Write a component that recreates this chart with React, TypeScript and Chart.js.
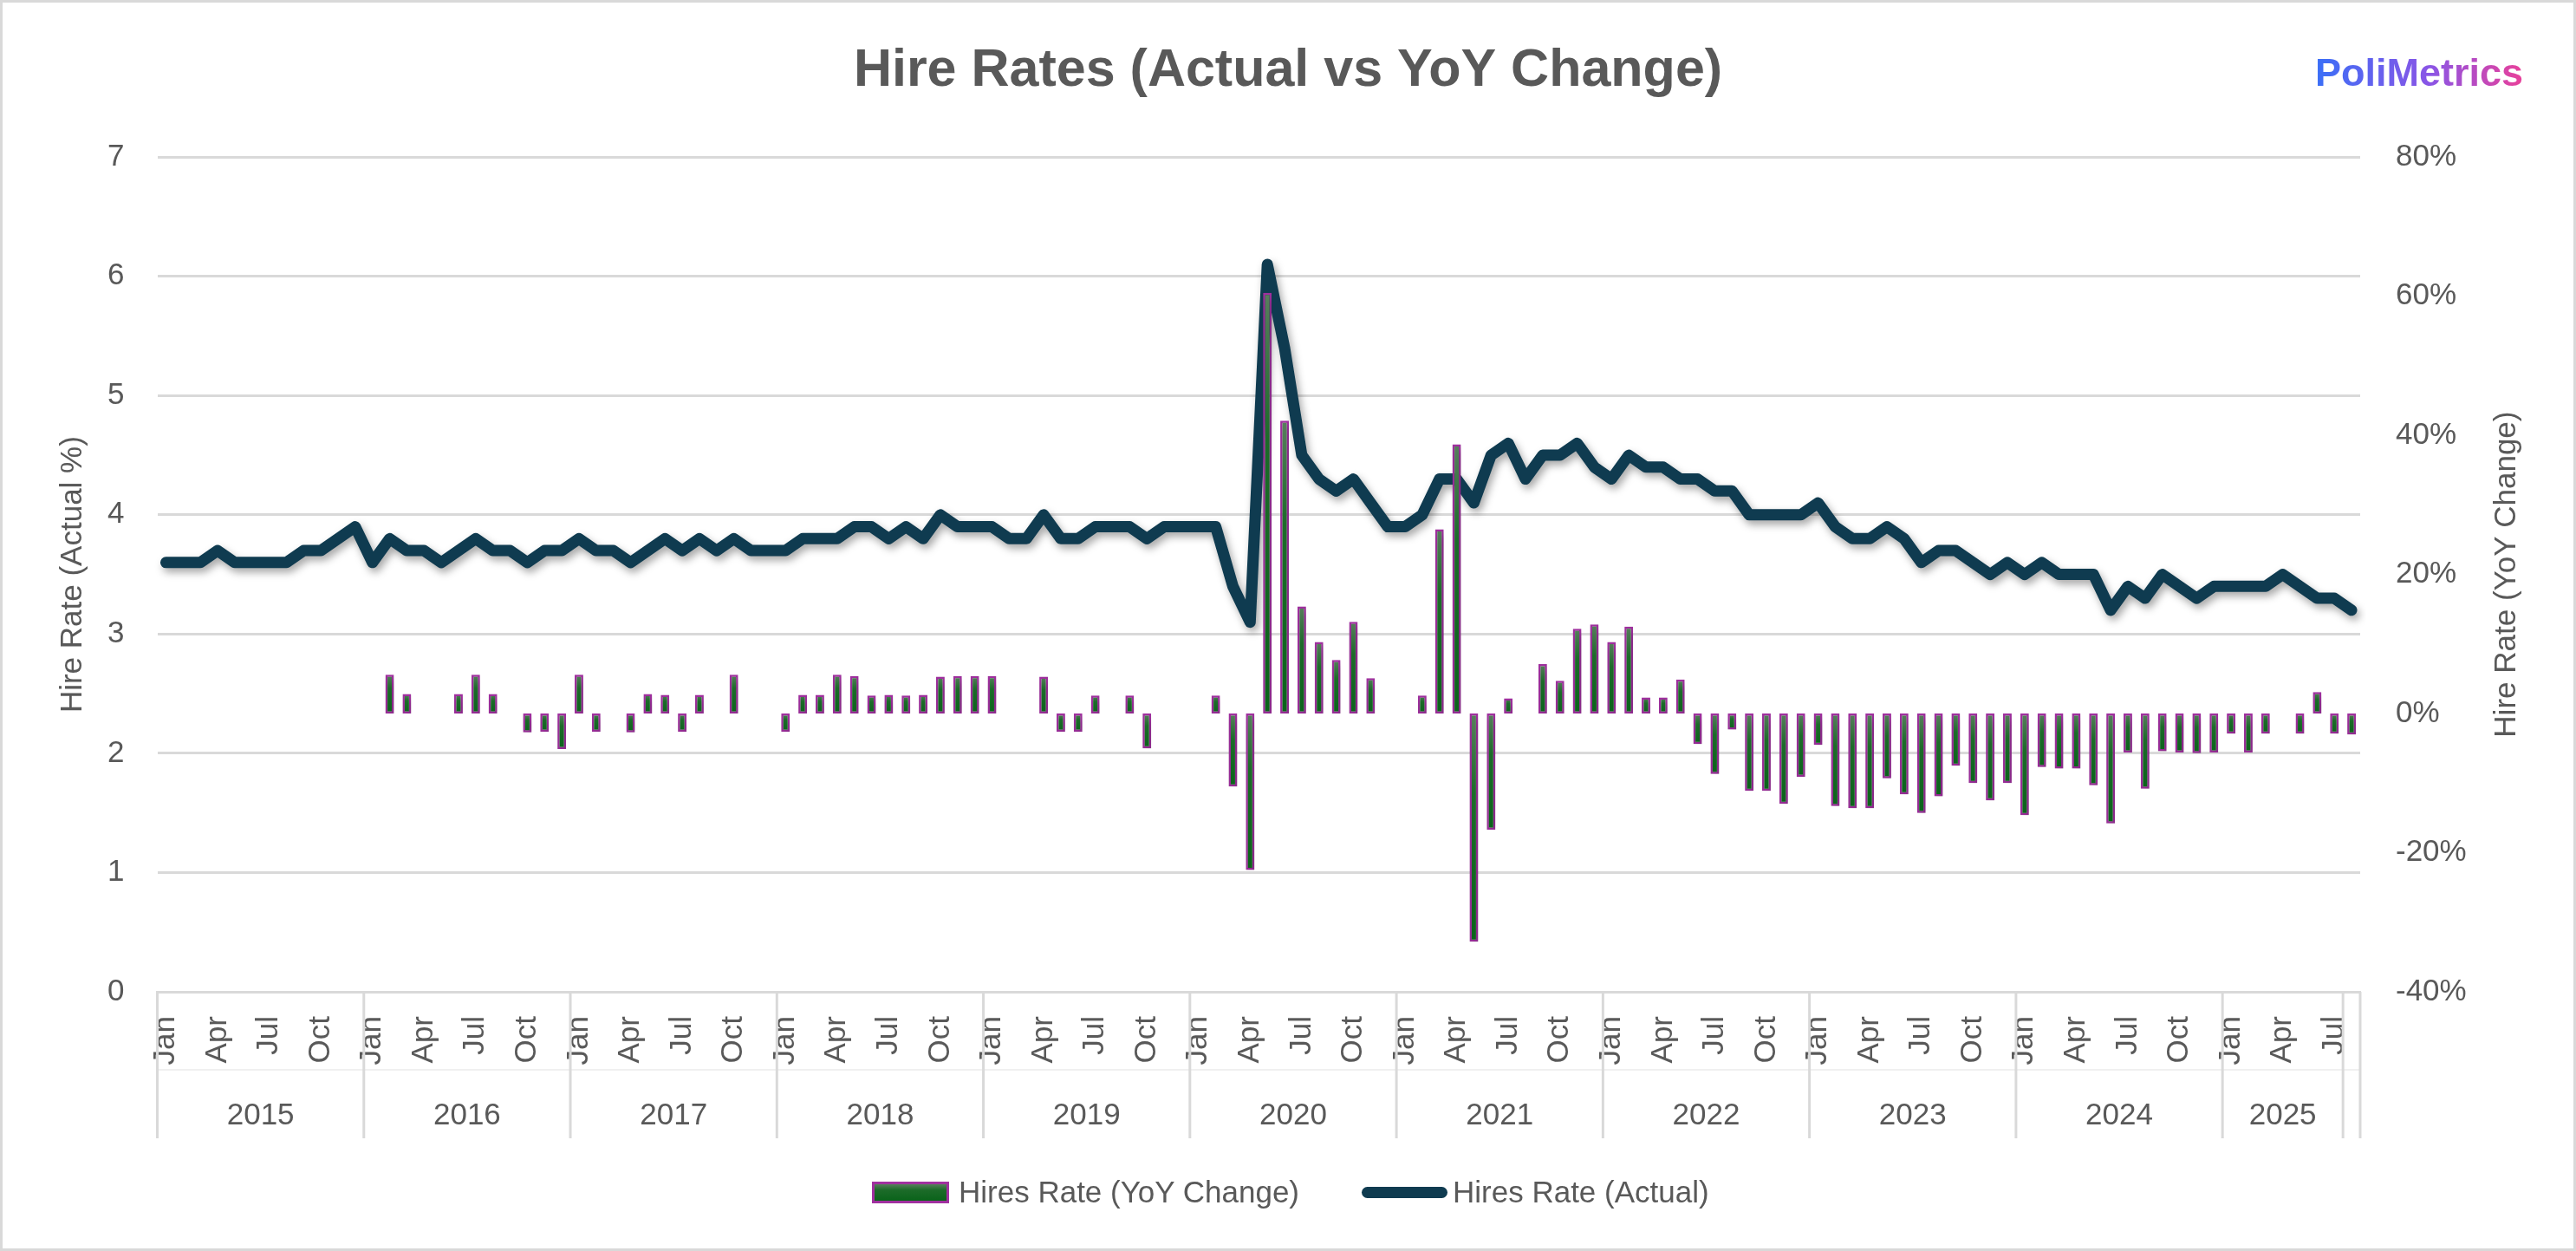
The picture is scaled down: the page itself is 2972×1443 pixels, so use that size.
import React, { useEffect, useRef } from "react";
import Chart from "chart.js/auto";

// categories: months grouped by year (last group is a single unlabelled month)
const MONTHS = ["Jan", "Feb", "Mar", "Apr", "May", "Jun", "Jul", "Aug", "Sep", "Oct", "Nov", "Dec"];
const SHOWN_MONTHS = ["Jan", "Apr", "Jul", "Oct"];
const YEAR_LABELS = ["2015", "2016", "2017", "2018", "2019", "2020", "2021", "2022", "2023", "2024", "2025", ""];
const YEAR_SIZES = [12, 12, 12, 12, 12, 12, 12, 12, 12, 12, 7, 1];

// Hires Rate (Actual), %
const hireRateActual = [
  3.6, 3.6, 3.6, 3.7, 3.6, 3.6, 3.6, 3.6, 3.7, 3.7, 3.8, 3.9, // 2015
  3.6, 3.8, 3.7, 3.7, 3.6, 3.7, 3.8, 3.7, 3.7, 3.6, 3.7, 3.7, // 2016
  3.8, 3.7, 3.7, 3.6, 3.7, 3.8, 3.7, 3.8, 3.7, 3.8, 3.7, 3.7, // 2017
  3.7, 3.8, 3.8, 3.8, 3.9, 3.9, 3.8, 3.9, 3.8, 4.0, 3.9, 3.9, // 2018
  3.9, 3.8, 3.8, 4.0, 3.8, 3.8, 3.9, 3.9, 3.9, 3.8, 3.9, 3.9, // 2019
  3.9, 3.9, 3.4, 3.1, 6.1, 5.4, 4.5, 4.3, 4.2, 4.3, 4.1, 3.9, // 2020
  3.9, 4.0, 4.3, 4.3, 4.1, 4.5, 4.6, 4.3, 4.5, 4.5, 4.6, 4.4, // 2021
  4.3, 4.5, 4.4, 4.4, 4.3, 4.3, 4.2, 4.2, 4.0, 4.0, 4.0, 4.0, // 2022
  4.1, 3.9, 3.8, 3.8, 3.9, 3.8, 3.6, 3.7, 3.7, 3.6, 3.5, 3.6, // 2023
  3.5, 3.6, 3.5, 3.5, 3.5, 3.2, 3.4, 3.3, 3.5, 3.4, 3.3, 3.4, // 2024
  3.4, 3.4, 3.4, 3.5, 3.4, 3.3, 3.3, 3.2, // 2025
];

// Hires Rate (YoY Change), %
const hireRateYoY = [
  null, null, null, null, null, null, null, null, null, null, null, null, // 2015
  0, 5.6, 2.8, 0, 0, 2.8, 5.6, 2.8, 0, -2.7, -2.6, -5.1, // 2016
  5.6, -2.6, 0, -2.7, 2.8, 2.7, -2.6, 2.7, 0, 5.6, 0, 0, // 2017
  -2.6, 2.7, 2.7, 5.6, 5.4, 2.6, 2.7, 2.6, 2.7, 5.3, 5.4, 5.4, // 2018
  5.4, 0, 0, 5.3, -2.6, -2.6, 2.6, 0, 2.6, -5.0, 0, 0, // 2019
  0, 2.6, -10.5, -22.5, 60.5, 42.1, 15.4, 10.3, 7.7, 13.2, 5.1, 0, // 2020
  0, 2.6, 26.5, 38.7, -32.8, -16.7, 2.2, 0, 7.1, 4.7, 12.2, 12.8, // 2021
  10.3, 12.5, 2.3, 2.3, 4.9, -4.4, -8.7, -2.3, -11.1, -11.1, -13.0, -9.1, // 2022
  -4.5, -13.3, -13.6, -13.6, -9.3, -11.6, -14.3, -11.9, -7.5, -10.0, -12.5, -10.0, // 2023
  -14.6, -7.7, -7.9, -7.9, -10.3, -15.8, -5.6, -10.8, -5.4, -5.6, -5.7, -5.6, // 2024
  -2.9, -5.6, -2.9, 0, -2.9, 3.1, -2.9, -3.0, // 2025
];

const TEXT = "#595959";
const GRID = "#d9d9d9";
const LINE = "#0f3b50";
const BAR_EDGE = "#a0309f";
const FONT = '"Liberation Sans", Arial, sans-serif';

const monthLabels: string[] = [];
YEAR_SIZES.forEach((size, g) => {
  const before = YEAR_SIZES.slice(0, g).reduce((a, b) => a + b, 0);
  for (let k = 0; k < size; k++) monthLabels.push(MONTHS[(before + k) % 12]);
});

// soft drop shadow under the line and the bars
const dropShadow = {
  id: "dropShadow",
  beforeDatasetDraw(chart: any) {
    const c = chart.ctx;
    c.save();
    c.shadowColor = "rgba(0,0,0,0.35)";
    c.shadowBlur = 10;
    c.shadowOffsetX = 3;
    c.shadowOffsetY = 5;
  },
  afterDatasetDraw(chart: any) {
    chart.ctx.restore();
  },
};

// year row, group separators and the two vertical axis titles
const yearAxis = {
  id: "yearAxis",
  afterDraw(chart: any) {
    const { ctx, chartArea } = chart;
    const x = chart.scales.x;
    const n = monthLabels.length;
    const edge = (i: number) =>
      i <= 0 ? chartArea.left : i >= n ? chartArea.right : (x.getPixelForValue(i - 1) + x.getPixelForValue(i)) / 2;
    const top = chartArea.bottom;
    const lineBottom = top + 169;

    ctx.save();
    ctx.strokeStyle = "#f0f0f0";
    ctx.lineWidth = 2;
    ctx.beginPath();
    ctx.moveTo(chartArea.left, top + 90);
    ctx.lineTo(chartArea.right, top + 90);
    ctx.stroke();

    ctx.strokeStyle = GRID;
    ctx.lineWidth = 3;
    ctx.font = `35px ${FONT}`;
    ctx.fillStyle = TEXT;
    ctx.textAlign = "center";
    ctx.textBaseline = "middle";
    let start = 0;
    YEAR_SIZES.forEach((size, g) => {
      const x0 = edge(start);
      const x1 = edge(start + size);
      ctx.beginPath();
      ctx.moveTo(x0, top);
      ctx.lineTo(x0, lineBottom);
      ctx.stroke();
      if (YEAR_LABELS[g]) ctx.fillText(YEAR_LABELS[g], (x0 + x1) / 2, top + 143);
      start += size;
    });
    ctx.beginPath();
    ctx.moveTo(chartArea.right, top);
    ctx.lineTo(chartArea.right, lineBottom);
    ctx.stroke();

    const midY = (chartArea.top + chartArea.bottom) / 2;
    const vertical = (text: string, cx: number) => {
      ctx.save();
      ctx.translate(cx, midY);
      ctx.rotate(-Math.PI / 2);
      ctx.fillText(text, 0, 0);
      ctx.restore();
    };
    vertical("Hire Rate (Actual %)", 84);
    vertical("Hire Rate (YoY Change)", 2892);
    ctx.restore();
  },
};

const barFill = (context: any) => {
  const chart = context.chart;
  const s = chart.scales?.y2;
  const v = context.raw;
  if (!s || typeof v !== "number" || !chart.chartArea) return "#0c661c";
  const y0 = s.getPixelForValue(0);
  const y1 = s.getPixelForValue(v);
  const top = Math.min(y0, y1);
  const bot = Math.max(y0, y1);
  if (bot - top < 2) return "#0c661c";
  const g = chart.ctx.createLinearGradient(0, top, 0, bot);
  g.addColorStop(0, "#587e5d");
  g.addColorStop(0.35, "#1c6b29");
  g.addColorStop(1, "#0a631a");
  return g;
};

const HireRates: React.FC = () => {
  const chartRef = useRef<HTMLCanvasElement>(null);
  const chartInstanceRef = useRef<Chart>();

  useEffect(() => {
    document.body.style.margin = "0";
    document.body.style.overflow = "hidden";
    if (chartRef.current) {
      if (chartInstanceRef.current) chartInstanceRef.current.destroy();

      chartInstanceRef.current = new Chart(chartRef.current, {
        type: "bar",
        data: {
          labels: monthLabels,
          datasets: [
            {
              type: "bar",
              label: "Hires Rate (YoY Change)",
              data: hireRateYoY,
              yAxisID: "y2",
              order: 0,
              backgroundColor: barFill,
              borderColor: BAR_EDGE,
              borderWidth: 2.5,
              borderSkipped: false,
              barPercentage: 0.5,
              categoryPercentage: 1,
            },
            {
              type: "line",
              label: "Hires Rate (Actual)",
              data: hireRateActual,
              yAxisID: "y",
              order: 1,
              borderColor: LINE,
              backgroundColor: LINE,
              borderWidth: 13,
              borderCapStyle: "round",
              borderJoinStyle: "round",
              pointRadius: 0,
              tension: 0,
              fill: false,
            },
          ],
        } as any,
        options: {
          animation: false,
          responsive: true,
          maintainAspectRatio: false,
          events: [],
          layout: { padding: 0 },
          plugins: {
            legend: { display: false },
            tooltip: { enabled: false },
            title: {
              display: true,
              text: "Hire Rates (Actual vs YoY Change)",
              color: TEXT,
              font: { family: FONT, size: 61, weight: "bold" },
              padding: { top: 46, bottom: 62 },
            },
          },
          scales: {
            x: {
              grid: { display: false, drawTicks: false },
              border: { display: true, color: GRID, width: 3 },
              ticks: {
                autoSkip: false,
                maxRotation: 90,
                minRotation: 90,
                padding: 28,
                color: TEXT,
                font: { family: FONT, size: 35 },
                callback: (_v: any, i: number) => (SHOWN_MONTHS.includes(monthLabels[i]) && i < 127 ? monthLabels[i] : ""),
              },
              afterFit: (s: any) => {
                s.height = 299;
              },
            },
            y: {
              position: "left",
              min: 0,
              max: 7,
              grid: { color: GRID, lineWidth: 3, drawTicks: false },
              border: { display: false },
              ticks: { stepSize: 1, padding: 38, color: TEXT, font: { family: FONT, size: 35 } },
              afterFit: (s: any) => {
                s.width = 181.5;
              },
            },
            y2: {
              position: "right",
              min: -40,
              max: 80,
              grid: { display: false, drawTicks: false },
              border: { display: false },
              ticks: {
                stepSize: 20,
                padding: 41,
                color: TEXT,
                font: { family: FONT, size: 35 },
                callback: (v: any) => `${v}%`,
              },
              afterFit: (s: any) => {
                s.width = 249;
              },
            },
          },
        } as any,
        plugins: [dropShadow, yearAxis],
      });
    }

    return () => {
      if (chartInstanceRef.current) chartInstanceRef.current.destroy();
    };
  }, []);

  const legendText: React.CSSProperties = {
    position: "absolute",
    top: 1350,
    height: 50,
    display: "flex",
    alignItems: "center",
    fontFamily: FONT,
    fontSize: 35,
    color: TEXT,
    whiteSpace: "nowrap",
  };

  return (
    <div style={{ position: "relative", width: 2972, height: 1443, background: "white", overflow: "hidden" }}>
      <canvas ref={chartRef} style={{ position: "absolute", left: 0, top: 0, width: "100%", height: "100%" }} />
      <span
        style={{
          position: "absolute",
          right: 61,
          top: 61,
          lineHeight: "45px",
          fontFamily: FONT,
          fontWeight: "bold",
          fontSize: 45,
          background: "linear-gradient(90deg, #3a6ff7 0%, #8a55e6 55%, #e9409a 100%)",
          WebkitBackgroundClip: "text",
          backgroundClip: "text",
          color: "transparent",
        }}
      >
        PoliMetrics
      </span>
      <div style={{ ...legendText, left: 1006 }}>
        <span
          style={{
            width: 89,
            height: 25,
            boxSizing: "border-box",
            border: `3px solid ${BAR_EDGE}`,
            background: "linear-gradient(180deg, #587e5d 0%, #1c6b29 35%, #0a631a 100%)",
            marginRight: 11,
          }}
        />
        Hires Rate (YoY Change)
      </div>
      <div style={{ ...legendText, left: 1571 }}>
        <span style={{ width: 99, height: 13, borderRadius: 7, background: LINE, marginRight: 6 }} />
        Hires Rate (Actual)
      </div>
      <div
        style={{
          position: "absolute",
          inset: 0,
          border: `3px solid ${GRID}`,
          pointerEvents: "none",
        }}
      />
    </div>
  );
};

export default HireRates;
